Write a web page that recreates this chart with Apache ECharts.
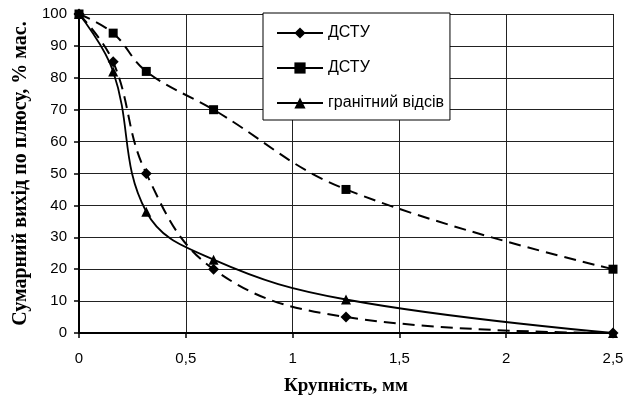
<!DOCTYPE html>
<html>
<head>
<meta charset="utf-8">
<script src="https://cdn.jsdelivr.net/npm/echarts@6/dist/echarts.min.js"></script>
<style>
  html, body { margin: 0; padding: 0; background: #fff; }
  #chart { width: 631px; height: 397px; }
</style>
</head>
<body>
<div id="chart"></div>
<script>
const sizes = [0, 0.16, 0.315, 0.63, 1.25, 2.5];
const dstuLow = [100, 85, 50, 20, 5, 0];
const dstuHigh = [100, 94, 82, 70, 45, 20];
const granite = [100, 82, 38, 23, 10.5, 0];
const names = ["ДСТУ", "ДСТУ ", "гранітний відсів"];

function pairs(ys) {
  return sizes.map((x, i) => [x, ys[i]]);
}

const chart = echarts.init(document.getElementById("chart"));
const serifBold = { fontFamily: "Liberation Serif", fontWeight: "bold", color: "#000" };

chart.setOption({
  animation: false,
  grid: { left: 79, right: 18, top: 14, bottom: 64, outerBoundsMode: "none" },
  legend: {
    orient: "vertical",
    left: 263,
    top: 13,
    padding: [12, 6, 9, 13],
    itemGap: 19,
    itemWidth: 46,
    itemHeight: 14,
    backgroundColor: "#fff",
    borderColor: "#000",
    borderWidth: 1,
    borderRadius: 0,
    lineStyle: { type: "solid", width: 2 },
    textStyle: { fontFamily: "Liberation Sans", fontSize: 16, color: "#000" },
    data: names
  },
  xAxis: {
    type: "value",
    min: 0,
    max: 2.5,
    interval: 0.5,
    name: "Крупність, мм",
    nameLocation: "middle",
    nameGap: 44,
    nameTextStyle: Object.assign({ fontSize: 19 }, serifBold),
    axisLine: { lineStyle: { color: "#000", width: 2 } },
    axisTick: { show: true, length: 5, lineStyle: { color: "#000", width: 1.5 } },
    axisLabel: {
      margin: 18,
      fontFamily: "Liberation Sans",
      fontSize: 15,
      color: "#000",
      formatter: (v) => String(v).replace(".", ",")
    },
    splitLine: { show: true, lineStyle: { color: "#222", width: 1 } }
  },
  yAxis: {
    type: "value",
    min: 0,
    max: 100,
    interval: 10,
    name: "Сумарний вихід по плюсу, % мас.",
    nameLocation: "middle",
    nameGap: 45,
    nameTextStyle: Object.assign({ fontSize: 20 }, serifBold),
    axisLine: { show: true, lineStyle: { color: "#000", width: 2 } },
    axisTick: { show: true, length: 5, lineStyle: { color: "#000", width: 1.5 } },
    axisLabel: { margin: 12, fontFamily: "Liberation Sans", fontSize: 15, color: "#000" },
    splitLine: { show: true, lineStyle: { color: "#222", width: 1 } }
  },
  series: [
    {
      name: names[0],
      type: "line",
      smooth: 0.4,
      data: pairs(dstuLow),
      symbol: "diamond",
      symbolSize: 11,
      itemStyle: { color: "#000" },
      lineStyle: { color: "#000", width: 2, type: [12, 7] }
    },
    {
      name: names[1],
      type: "line",
      smooth: 0.4,
      data: pairs(dstuHigh),
      symbol: "rect",
      symbolSize: 9,
      itemStyle: { color: "#000" },
      lineStyle: { color: "#000", width: 2, type: [12, 7] }
    },
    {
      name: names[2],
      type: "line",
      smooth: 0.4,
      data: pairs(granite),
      symbol: "triangle",
      symbolSize: 10,
      itemStyle: { color: "#000" },
      lineStyle: { color: "#000", width: 1.8, type: "solid" }
    }
  ]
});
</script>
</body>
</html>
